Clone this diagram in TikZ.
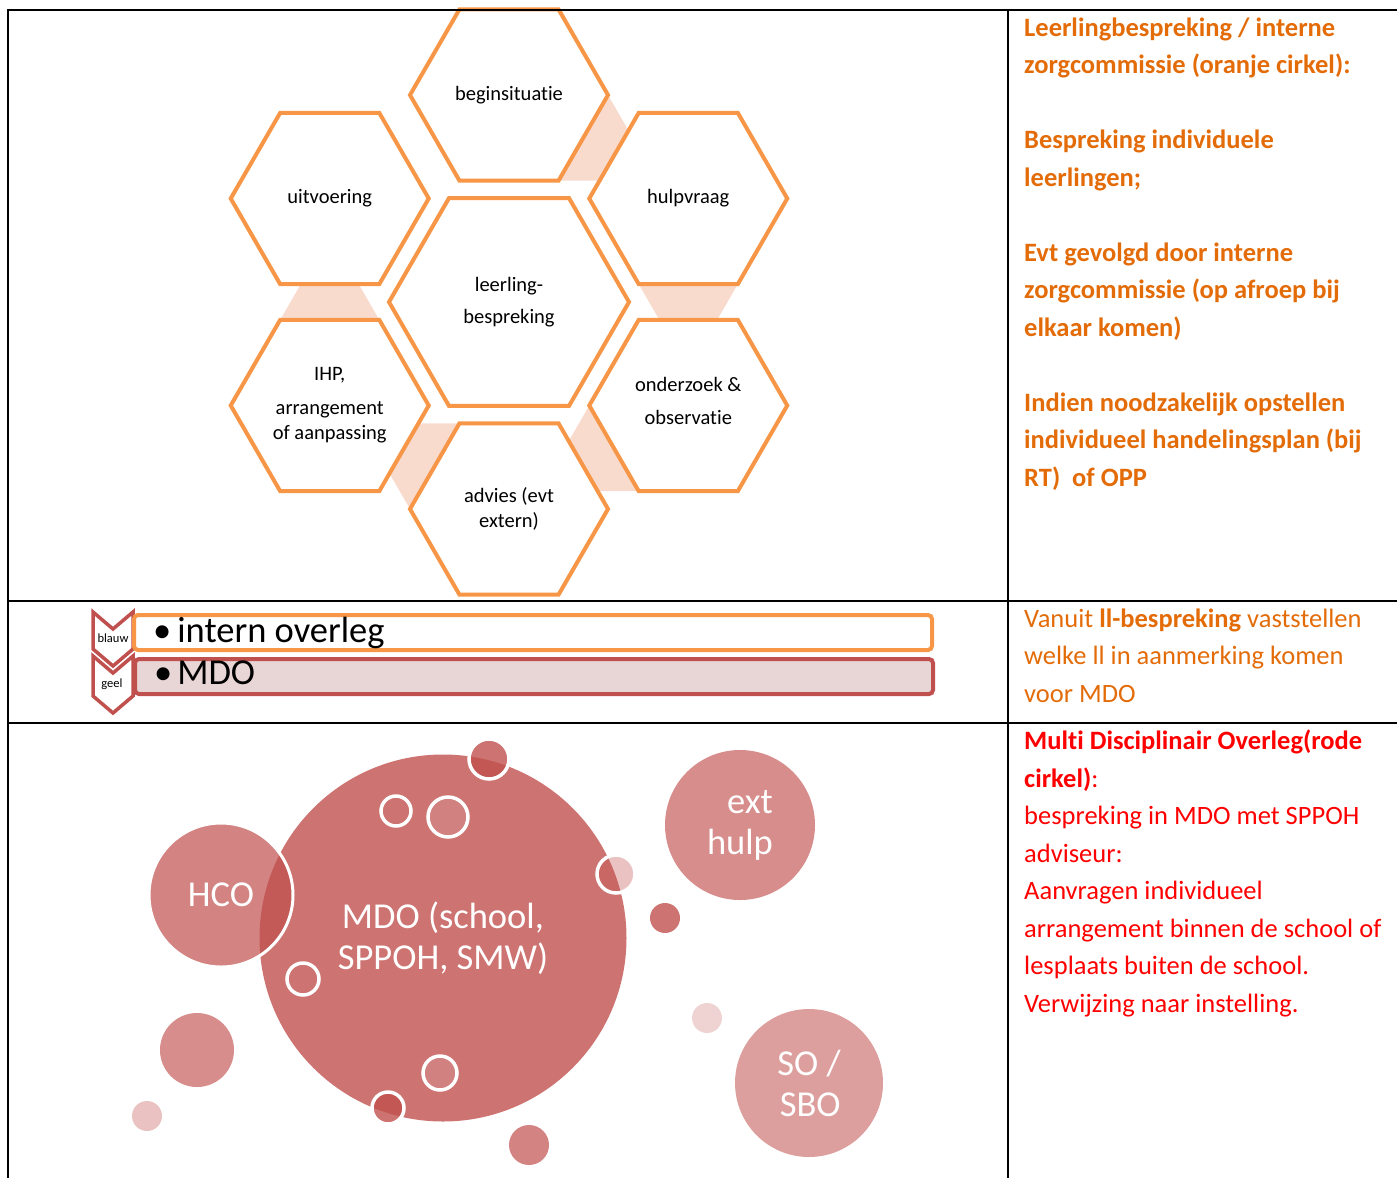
\documentclass[tikz,border=0pt]{standalone}
\usepackage{fontspec}
\setmainfont{Carlito}[Ligatures=NoCommon]
\usetikzlibrary{shapes.geometric,calc}
\definecolor{hexorange}{RGB}{247,150,70}
\definecolor{peach}{RGB}{249,219,206}
\definecolor{txtorange}{RGB}{227,108,9}
\definecolor{mdored}{RGB}{192,80,77}
\definecolor{barpink}{RGB}{232,213,213}
\newcommand{\hexfont}{\fontsize{20.5}{25}\selectfont}
\newcommand{\colfont}{\fontsize{26.5}{37.5}\selectfont}
\newcommand{\bigfont}{\fontsize{36.5}{41}\selectfont}
\newcommand{\tinyfont}{\fontsize{12.5}{14}\selectfont}
\begin{document}
\begin{tikzpicture}
    [
    x = 1pt, y = -1pt,
    hexa/.style = {regular polygon, regular polygon sides = 6, draw = hexorange, line width = 4pt, fill = white, inner sep = 0pt, minimum size = 198pt, align = center, font = \hexfont},
    coltext/.style = {anchor = base west, inner sep = 0pt, align = left, font = \colfont},
    bubble/.style = {circle, fill = mdored, inner sep = 0pt, text = white, align = center, font = \bigfont},
    ring/.style = {circle, draw = white, line width = 3.5pt, inner sep = 0pt},
    barbox/.style = {rectangle, rounded corners = 4pt, line width = 4pt, minimum width = 798pt, minimum height = 35pt, anchor = north west, inner sep = 0pt},
    chev/.style = {draw = mdored, line width = 3.5pt, fill = white, line join = miter},
    rule/.style = {line width = 2pt}
    ]
    \useasboundingbox (0,0) rectangle (1397,1178);

    % hexagon cycle
    \coordinate (hub) at (509,302);
    \coordinate (beg) at ($(hub)+(-90:207)$);
    \coordinate (hulp) at ($(hub)+(-30:207)$);
    \coordinate (ond) at ($(hub)+(30:207)$);
    \coordinate (adv) at ($(hub)+(90:207)$);
    \coordinate (ihp) at ($(hub)+(150:207)$);
    \coordinate (uitv) at ($(hub)+(210:207)$);

    \fill[peach] ($(beg)+(0:99)$) -- ($(beg)+(60:99)$) -- ($(beg)+(0:99)+(60:99)$) -- cycle;
    \fill[peach] ($(hulp)+(60:99)$) -- ($(hulp)+(120:99)$) -- ($(hulp)+(60:99)+(120:99)$) -- cycle;
    \fill[peach] ($(ond)+(120:99)$) -- ($(ond)+(180:99)$) -- ($(ond)+(120:99)+(180:99)$) -- cycle;
    \fill[peach] ($(adv)+(180:99)$) -- ($(adv)+(240:99)$) -- ($(adv)+(180:99)+(240:99)$) -- cycle;
    \fill[peach] ($(ihp)+(240:99)$) -- ($(ihp)+(300:99)$) -- ($(ihp)+(240:99)+(300:99)$) -- cycle;

    \node[hexa, minimum size = 240pt] (hubhex) at (hub) {leerling-\\[7pt]bespreking};
    \node[hexa] (beghex) at (beg) {beginsituatie};
    \node[hexa] (hulphex) at (hulp) {hulpvraag};
    \node[hexa] (ondhex) at (ond) {};
    \node[font = \hexfont, align = center, yshift = 5pt] (ondlabel) at (ondhex) {onderzoek \&\\[8pt]observatie};
    \node[hexa] (advhex) at (adv) {advies (evt\\extern)};
    \node[hexa] (ihphex) at (ihp) {IHP,\\[9pt]arrangement\\of aanpassing};
    \node[hexa] (uitvhex) at (uitv) {uitvoering};

    % chevrons and bars
    \draw[chev] (93,612) -- (113,629) -- (133,612) -- (133,649) -- (113,666) -- (93,649) -- cycle;
    \draw[chev] (93,656) -- (113,673) -- (133,656) -- (133,696) -- (113,713) -- (93,696) -- cycle;
    \node[font = \tinyfont, inner sep = 0pt] (blauw) at (113,638) {blauw};
    \node[font = \tinyfont, inner sep = 0pt] (geel) at (112,684) {geel};
    \node[barbox, draw = hexorange, fill = white] (intbar) at (132,613) {};
    \node[barbox, draw = mdored, fill = barpink] (mdobar) at (133,657) {};
    \node[font = \bigfont, anchor = base west, inner sep = 0pt] (inttext) at (153,642) {•\hspace{6pt}intern overleg};
    \node[font = \bigfont, anchor = base west, inner sep = 0pt] (mdotext) at (154,684) {•\hspace{5pt}MDO};

    % bubbles
    \node[bubble, opacity = 0.8, text opacity = 1, minimum size = 367pt] (mdo) at (443,938) {MDO (school,\\SPPOH, SMW)};
    \node[bubble, fill opacity = 0.7, text opacity = 1, draw = white, line width = 3pt, minimum size = 144pt] (hco) at (221,895) {HCO};
    \node[bubble, fill opacity = 0.65, text opacity = 1, minimum size = 150pt, align = right] (ext) at (740,825) {ext\\hulp};
    \node[bubble, fill opacity = 0.55, text opacity = 1, minimum size = 148pt, align = right] (sbo) at (809,1083) {SO /\\SBO};
    \node[ring, minimum size = 30pt] (ring1) at (396,811) {};
    \node[ring, fill = white, fill opacity = 0.1, minimum size = 40pt] (ring2) at (448,817) {};
    \node[ring, minimum size = 32pt] (ring3) at (303,979) {};
    \node[ring, fill = white, fill opacity = 0.1, minimum size = 34pt] (ring4) at (440,1073) {};
    \node[ring, fill = mdored, fill opacity = 0.8, minimum size = 40pt] (dot1) at (489,759) {};
    \node[ring, fill = mdored, fill opacity = 0.8, minimum size = 32pt] (dot2) at (388,1108) {};
    \node[ring, fill = mdored, fill opacity = 0.35, minimum size = 38pt] (dot3) at (616,874) {};
    \node[bubble, fill opacity = 0.65, minimum size = 74pt] (dot4) at (197,1050) {};
    \node[bubble, fill opacity = 0.35, minimum size = 30pt] (dot5) at (147,1116) {};
    \node[bubble, fill opacity = 0.7, minimum size = 40pt] (dot6) at (529,1145) {};
    \node[bubble, fill opacity = 0.8, minimum size = 30pt] (dot7) at (665,918) {};
    \node[bubble, fill opacity = 0.25, minimum size = 30pt] (dot8) at (707,1018) {};

    % right column (base anchor = last line)
    \node[coltext, text = txtorange, font = \colfont\bfseries] (lbtext) at (1024,486)
        {Leerlingbespreking / interne\\zorgcommissie (oranje cirkel):\\[37.5pt]Bespreking individuele\\leerlingen;\\[37.5pt]Evt gevolgd door interne\\zorgcommissie (op afroep bij\\elkaar komen)\\[37.5pt]Indien noodzakelijk opstellen\\individueel handelingsplan (bij\\RT)~~of OPP};
    \node[coltext, text = txtorange] (vanuit) at (1024,702)
        {Vanuit \textbf{ll-bespreking} vaststellen\\welke ll in aanmerking komen\\voor MDO};
    \node[coltext, text = red] (mdoinfo) at (1024,1012)
        {\textbf{Multi Disciplinair Overleg(rode}\\\textbf{cirkel)}:\\bespreking in MDO met SPPOH\\adviseur:\\Aanvragen individueel\\arrangement binnen de school of\\lesplaats buiten de school.\\Verwijzing naar instelling.};

    % table rules
    \draw[rule] (8,1178) -- (8,10) -- (1397,10);
    \draw[rule] (1008,10) -- (1008,1178);
    \draw[rule] (8,601) -- (1397,601);
    \draw[rule] (8,723) -- (1397,723);
\end{tikzpicture}
\end{document}
